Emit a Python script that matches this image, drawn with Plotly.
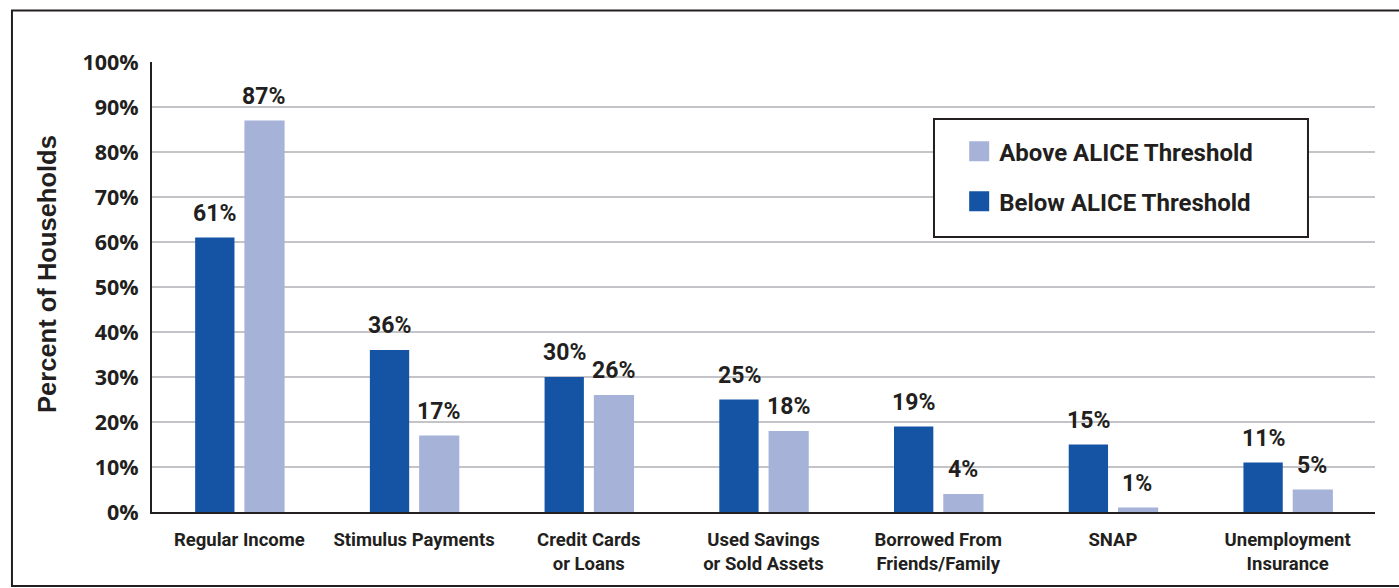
import plotly.graph_objects as go

categories = ["Regular Income", "Stimulus Payments", "Credit Cards<br>or Loans",
              "Used Savings<br>or Sold Assets", "Borrowed From<br>Friends/Family",
              "SNAP", "Unemployment<br>Insurance"]
below = [61, 36, 30, 25, 19, 15, 11]
above = [87, 17, 26, 18, 4, 1, 5]
y_ticks = [0, 10, 20, 30, 40, 50, 60, 70, 80, 90, 100]
y_tick_labels = [f"{v}%" for v in y_ticks]

DARK = "#1554A5"
LIGHT = "#A6B2D8"
TXT = "#231F20"
FONT = "Roboto"

fig = go.Figure()
fig.add_trace(go.Bar(name="Above ALICE Threshold", x=categories, y=above,
                     marker=dict(color=LIGHT, line=dict(width=0)),
                     width=0.23, offset=0.029, showlegend=False))
fig.add_trace(go.Bar(name="Below ALICE Threshold", x=categories, y=below,
                     marker=dict(color=DARK, line=dict(width=0)),
                     width=0.225, offset=-0.253, showlegend=False))
# legend entries with square swatches
fig.add_trace(go.Scatter(name="<b>Above ALICE Threshold</b>", x=[None], y=[None],
                         mode="markers", legendgroup="a",
                         marker=dict(symbol="square", size=24, color=LIGHT,
                                     line=dict(width=4, color=LIGHT))))
fig.add_trace(go.Scatter(name="<b>Below ALICE Threshold</b>", x=[None], y=[None],
                         mode="markers", legendgroup="b",
                         marker=dict(symbol="square", size=24, color=DARK,
                                     line=dict(width=4, color=DARK))))

annotations = []
for cat, b, a in zip(categories, below, above):
    annotations.append(dict(x=cat, y=b, text=f"<b>{b}%</b>", showarrow=False,
                            xshift=-24.5, yanchor="bottom", yshift=9,
                            font=dict(family=FONT, size=23, color=TXT)))
    annotations.append(dict(x=cat, y=a, text=f"<b>{a}%</b>", showarrow=False,
                            xshift=24.5, yanchor="bottom", yshift=9,
                            font=dict(family=FONT, size=23, color=TXT)))
# y-axis title
annotations.append(dict(xref="paper", yref="paper", x=-0.0859, y=0.529,
                        text="<b>Percent of Households</b>", textangle=-90,
                        showarrow=False, xanchor="center", yanchor="middle",
                        font=dict(family="Liberation Sans", size=25.5, color=TXT)))

fig.update_layout(
    width=1399, height=588,
    margin=dict(l=152, r=24, t=62, b=76),
    paper_bgcolor="white", plot_bgcolor="white",
    barmode="overlay",
    showlegend=True,
    legend=dict(x=0.660, y=0.851, xanchor="left", yanchor="top",
                borderwidth=0, bgcolor="rgba(0,0,0,0)",
                font=dict(family=FONT, size=24, color=TXT),
                itemsizing="trace", tracegroupgap=16),
    annotations=annotations,
    shapes=[dict(type="rect", xref="paper", yref="paper",
                 x0=-0.1145, x1=1.05, y0=-0.1645, y1=1.1145,
                 line=dict(color="#231F20", width=2), layer="below"),
            dict(type="rect", xref="paper", yref="paper",
                 x0=0.6394, x1=0.9452, y0=0.6111, y1=0.8733,
                 line=dict(color="#231F20", width=2), fillcolor="white",
                 layer="above")],
    font=dict(family=FONT, color=TXT),
)
fig.update_xaxes(showline=True, linecolor="#231F20", linewidth=2,
                 tickfont=dict(family=FONT, size=18.5, color=TXT),
                 ticks="", showgrid=False, ticklabelstandoff=10,
                 tickvals=categories,
                 ticktext=[f"<b>{c}</b>" for c in categories])
fig.update_yaxes(range=[0, 100], tickvals=y_ticks,
                 ticktext=[f"<b>{t}</b>" for t in y_tick_labels],
                 tickfont=dict(family="Open Sans", size=21.5, color=TXT),
                 showline=True, linecolor="#231F20", linewidth=2,
                 showgrid=True, gridcolor="#C4C4C8", gridwidth=2,
                 ticks="", ticklabelstandoff=7)

fig.write_html("out.html", config={"displayModeBar": False},
               post_script="document.body.style.margin='0';document.body.style.padding='0';document.body.style.overflow='hidden';")
